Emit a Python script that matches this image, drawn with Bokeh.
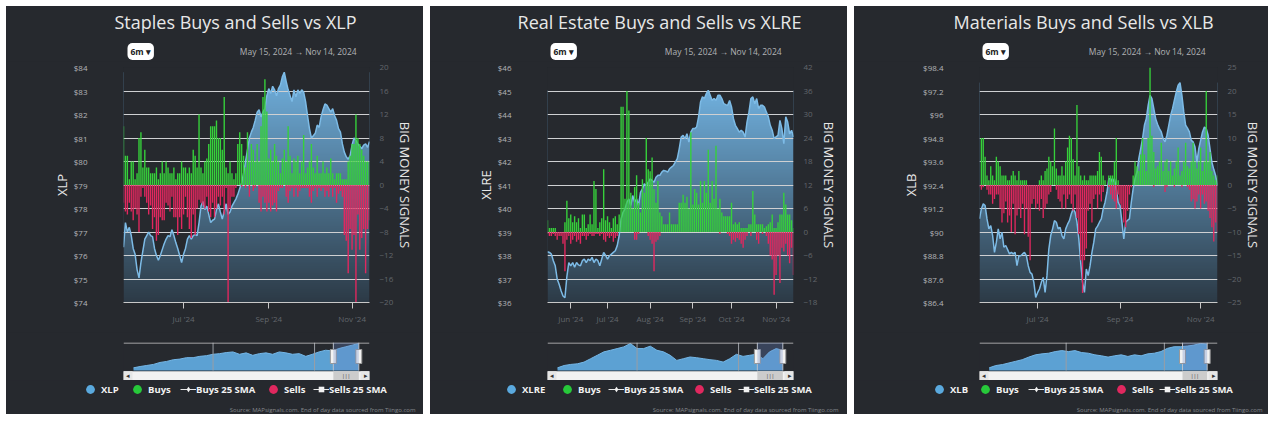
import numpy as np
import pandas as pd
from bokeh.plotting import figure
from bokeh.layouts import row, column
from bokeh.models import (Range1d, LinearAxis, FixedTicker, CustomJSTickFormatter, Label,
                          Legend, LegendItem, BoxAnnotation)
from bokeh.core.properties import value
from bokeh.embed import file_html
from bokeh.resources import INLINE

# ---------------------------------------------------------------- data
staples_xlp = [
    76.35, 77.4, 77.0, 77.2, 76.85, 76.3, 76.05, 75.4, 75.05, 75.7, 76.2, 76.7, 76.85, 77.0, 76.85, 76.8,
    76.3, 76.0, 75.8, 76.0, 76.25, 76.5, 76.7, 76.85, 76.8, 77.1, 76.85, 76.55, 76.3, 76.0, 75.7, 76.05,
    76.3, 76.7, 76.85, 76.7, 76.85, 76.9, 76.85, 77.4, 78.1, 78.3, 77.95, 78.1, 77.75, 77.4, 77.5, 77.55,
    77.95, 78.2, 77.85, 77.55, 77.9, 78.2, 77.75, 77.85, 78.1, 78.25, 78.4, 78.6, 78.85, 79.1, 79.5, 80.0,
    80.5, 81.0, 81.25, 81.45, 81.75, 82.1, 82.2, 81.9, 82.1, 82.25, 82.8, 83.1, 82.9, 83.2, 83.05, 82.8,
    83.1, 83.25, 83.6, 83.8, 83.4, 83.05, 82.8, 82.55, 83.05, 82.75, 83.05, 82.9, 83.05, 82.95, 82.55, 81.95,
    81.4, 81.0, 81.1, 81.2, 81.55, 81.45, 81.9, 82.2, 82.45, 82.4, 82.25, 82.1, 82.25, 81.95, 81.75, 81.4,
    81.25, 80.75, 80.4, 80.2, 80.1, 80.25, 80.7, 81.0, 80.9, 80.75, 80.65, 80.55, 80.7, 80.75, 80.6, 80.85,
]
staples_buys = [
    10, 5, 5, 1, 4, 4, 1, 2, 8, 9, 3, 6, 3, 3, 2, 2,
    2, 3, 1, 2, 4, 2, 4, 3, 2, 2, 3, 1, 2, 2, 4, 3,
    3, 2, 3, 2, 6, 5, 3, 12, 3, 2, 4, 4.5, 7, 10, 10, 10,
    11, 8, 8, 6, 15, 3, 2, 4, 2, 1, 2, 7, 9, 7, 5, 3,
    9, 4, 7, 6, 4, 7, 4, 10, 15, 18, 12.5, 4.5, 6, 4, 7, 5,
    4, 2, 4.5, 6, 4, 10, 5, 2, 4.5, 4, 5, 2, 4, 8.5, 2, 3,
    4, 7, 3, 2, 5, 2, 2, 4, 2, 3, 2, 4.5, 2, 1, 2, 2,
    2, 1, 1, 1, 4, 5, 7, 7, 12, 8, 7, 6, 5, 4, 4, 4,
]
staples_sells = [
    -3, -4.5, -5, -3, -4.5, -6, -4, -5, -8, -2, -0.5, -2, -3, -5, -3.5, -7.5,
    -5.5, -9.5, -8.5, -5.5, -6, -6, -3, -3.5, -4.5, -2, -5.5, -5.5, -8.5, -5.5, -7.5, -5,
    -2, -5.5, -7.5, -9, -5, -8.5, -4, -2.5, -3, -3.5, -4, -2, -4.5, -5.5, -3, -5.5,
    -4, -2, -3.5, -2, -5, -0.5, -20, -4, -2, -2, -0.5, 0, 0, -0.3, 0, -0.5,
    0, -2, 0, -1, -0.5, 0, -3, -4.5, -2, -3, -4.5, -3, -4.5, -3.5, -3, -4.5,
    -1, -0.5, -0.5, 0, -2, -3, -1, -0.5, -2, -0.5, -2, -1, -0.5, -0.5, -0.5, -0.5,
    -2, -3, -1, -0.5, -2, -0.5, -1, -0.5, -2, -1, -2, -0.5, -2, -0.5, -3, -1.5,
    -1, -2, -8.5, -9.5, -15, -7.5, -11, -8.5, -20, -5, -11, -9, -7.5, -15, -7.5, -6,
]

realestate_xlre = [
    38.16, 38.13, 38.06, 37.78, 37.56, 37.0, 36.78, 36.5, 36.28, 36.2, 37.1, 37.7, 37.56, 37.7, 37.5, 37.7,
    37.6, 37.56, 37.78, 37.85, 37.7, 37.85, 37.78, 37.92, 37.7, 37.85, 37.78, 37.56, 37.85, 38.13, 38.0, 37.85,
    37.99, 38.06, 38.13, 38.2, 38.42, 38.84, 39.56, 39.84, 39.98, 40.27, 40.41, 40.13, 40.55, 40.27, 40.41, 40.13,
    40.69, 40.84, 41.05, 40.98, 41.12, 41.26, 41.19, 41.12, 41.33, 41.41, 41.41, 41.55, 41.62, 41.6, 41.55, 41.69,
    41.76, 41.83, 41.97, 42.12, 42.54, 43.04, 43.11, 42.97, 43.18, 42.83, 43.25, 43.4, 43.4, 43.47, 43.9, 44.53,
    44.75, 44.68, 44.89, 45.03, 44.82, 44.6, 44.68, 44.6, 44.82, 44.82, 44.68, 44.46, 44.42, 44.39, 44.6, 44.32,
    43.82, 43.54, 43.4, 43.25, 43.33, 43.25, 43.04, 43.68, 44.1, 44.68, 44.75, 44.46, 44.68, 44.25, 44.39, 44.39,
    44.32, 44.1, 43.9, 43.54, 43.33, 42.97, 43.05, 43.11, 43.75, 43.4, 42.76, 43.9, 43.68, 43.18, 43.33, 43.04,
]
realestate_buys = [
    3, 1, 1, 1, 1, 0, 0, 0, 0, 2.5, 8, 3.5, 4.5, 2.5, 4, 2.5,
    3.5, 1, 4.5, 4.5, 1, 2, 4.5, 2, 13, 11, 1, 2.5, 3.5, 16, 3, 4,
    2.5, 1, 3.5, 4, 2, 4.5, 32, 32, 8.5, 36, 31, 10, 6, 11.5, 14.5, 7.5,
    5, 13.5, 10, 24, 16, 15.5, 19, 11, 7.5, 13, 5, 4, 2, 2, 2, 5,
    2, 2, 2, 2, 7.5, 7.5, 9.5, 7.5, 9, 6, 25.5, 7, 11, 10, 7, 13,
    7.5, 13, 10, 21, 7.5, 13, 8.5, 22, 6, 8.5, 5, 4, 4, 4, 4, 7.5,
    2, 2.5, 2, 2.5, 1, 1, 1, 1, 2, 2, 10.5, 4.5, 2, 2, 2, 2,
    1, 1.5, 2, 2.5, 4.5, 1, 1, 2.5, 4.5, 4.5, 10, 7, 4.5, 4.5, 3, 1,
]
realestate_sells = [
    -0.5, -1, -1, -0.5, -1, -2, -1, -1, -3, -10, -2, -1, -3, -2, -1, -2.5,
    -2, -3, -1, -1, -2, -1, -0.5, -1, -1, -0.5, -0.5, -1, -0.5, -2, -2.5, -1,
    -1.5, -1, -2.5, -1.5, -1, 0, 0, 0, 0, 0, 0, 0, 0, -2, -2, -0.5,
    0, 0, 0, 0, -1, -2, -3, -10, -2.5, -2, -1, 0, 0, 0, 0, 0,
    0, 0, 0, 0, 0, 0, 0, 0, 0, 0, 0, 0, 0, 0, 0, 0,
    0, 0, 0, 0, 0, 0, 0, 0, 0, -0.5, 0, 0, 0, -0.5, -1, -3,
    -2, -2.5, -1.5, -2, -3, -4, -2, -1, 0, -1, 0, 0, -2, -3, 0, -0.5,
    0, -1, -3, -6, -7, -16, -11, -6, -13, -4, -5, -3, -6, -8, -4, -11,
]

materials_xlb = [
    90.67, 91.18, 91.44, 91.35, 90.67, 90.16, 90.33, 89.82, 88.96, 89.48, 90.16, 89.65, 89.99, 89.22, 89.31, 89.1,
    88.88, 88.96, 88.88, 88.96, 88.28, 88.79, 88.79, 88.88, 88.96, 88.79, 88.28, 87.94, 87.85, 87.43, 86.66, 86.9,
    87.09, 87.43, 87.68, 86.92, 87.77, 89.13, 89.82, 90.16, 90.58, 90.5, 90.16, 90.24, 89.82, 89.65, 90.16, 90.4,
    90.58, 90.93, 91.18, 91.01, 90.5, 89.65, 88.45, 87.43, 86.92, 88.11, 87.77, 88.28, 88.96, 89.48, 90.16, 90.3,
    90.5, 90.67, 91.18, 91.52, 92.03, 92.72, 92.72, 92.55, 92.72, 92.21, 91.52, 91.35, 90.5, 89.65, 90.5, 90.6,
    90.67, 91.52, 92.21, 92.72, 93.06, 93.74, 94.25, 94.77, 95.45, 95.79, 96.47, 96.98, 96.81, 96.3, 95.79, 95.5,
    95.28, 95.11, 94.77, 94.6, 94.94, 95.45, 95.96, 96.3, 96.73, 97.15, 97.5, 97.63, 96.98, 96.13, 95.45, 95.3,
    95.11, 94.68, 94.6, 94.34, 93.57, 94.25, 94.68, 95.11, 95.36, 95.28, 94.94, 94.25, 93.57, 93.2, 92.89, 92.38,
]
materials_buys = [
    0, 10, 10, 6, 2, 1, 4, 2, 1, 6, 5, 4, 2, 2, 2, 1,
    1, 2, 3, 2, 1, 3, 1, 1, 1, 1, 0, 0, 0, 0, 0, 0,
    1, 2, 1, 3, 3.5, 6, 5, 4, 12, 3.5, 2, 2, 4, 2, 5, 8,
    10.5, 10, 5.5, 2, 17, 4, 2, 1, 2, 1, 1, 2, 2, 2, 2, 3,
    7, 6, 2, 1, 0, 2, 2, 2, 5, 10, 1, 0, 0, 0, 0, 0,
    0, 0, 2, 5, 4, 3, 6.5, 10, 6.5, 3, 10, 25, 10.5, 7, 3.5, 4,
    5, 9, 3, 5, 5.5, 3, 5, 2, 3.5, 5, 8, 2, 3, 5, 9, 4,
    3.5, 5, 9, 5, 3.5, 5, 8, 3, 5, 20, 5, 7, 3, 2, 1, 2,
]
materials_sells = [
    -0.5, -1, -0.5, 0, -1, -2, -2, -4, -3, -2, -2, -5, -8, -6, -3.5, -8,
    -6.5, -10, -4, -10.5, -6.5, -5, -7, -4, -10.5, -5, -11, -16, -4, -3, -5, -4,
    -5.5, -3, -7, -5, -4, -2, -1.5, 0, 0, -1, -3, -3.5, -5, -2, -5, -3,
    -2, -4, -5.5, -2, -7, -10.5, -16, -23, -16, -13.5, -5.5, -4, -8, -3, -2, -5,
    -2, -3.5, -1.5, 0, 0, -0.5, -2, -3, -3.5, -5, -2, -4, -5, -8, -9, -5.5,
    -2, -0.5, 0, 0, 0, 0, 0, 0, 0, 0, 0, 0, 0, -0.5, 0, 0,
    0, 0, 0, -1.5, -0.5, 0, 0, 0, -0.5, 0, 0, 0, -0.5, 0, 0, -0.5,
    -1, -3.5, -3, -5, -3.5, -2, -5, -2, -4, -3.5, -5.5, -7, -9, -12, -8, -10,
]

# navigator (long history, sampled evenly from mid-2020 to Nov 2024)
nav_xlp = [58.1, 59.5, 60.6, 61.7, 63.8, 64.9, 66.7, 67.4, 68.9, 68.9, 70.3, 71.0, 72.5, 73.2, 74.3, 75.0,
           72.5, 74.0, 71.4, 73.2, 74.0, 72.5, 75.0, 74.0, 72.5, 73.2, 70.3, 72.5, 75.0, 76.8, 76.1, 78.6,
           80.4, 82.2, 84.0]
nav_xlre = [30.0, 31.9, 32.8, 33.3, 34.7, 37.5, 40.3, 43.1, 44.4, 45.8, 47.2, 50.0, 45.8, 45.8, 47.8, 44.4,
            43.1, 40.3, 36.1, 37.5, 38.9, 38.3, 37.5, 36.7, 36.1, 34.7, 37.5, 41.1, 39.4, 40.3, 41.1, 37.5,
            43.1, 45.8, 44.4]
nav_xlb = [52.0, 56.2, 58.0, 61.0, 64.0, 67.0, 71.8, 76.0, 77.8, 79.0, 82.0, 83.8, 82.0, 83.8, 80.2, 79.0,
           76.0, 74.2, 71.8, 74.2, 76.0, 73.0, 76.0, 74.2, 77.8, 79.0, 82.0, 88.0, 91.0, 91.0, 92.2, 94.0,
           97.0, 95.8]

staples_price_ticks = [74, 75, 76, 77, 78, 79, 80, 81, 82, 83, 84]
staples_signal_ticks = [-20, -16, -12, -8, -4, 0, 4, 8, 12, 16, 20]
realestate_price_ticks = [36, 37, 38, 39, 40, 41, 42, 43, 44, 45, 46]
realestate_signal_ticks = [-18, -12, -6, 0, 6, 12, 18, 24, 30, 36, 42]
materials_price_ticks = [86.4, 87.6, 88.8, 90.0, 91.2, 92.4, 93.6, 94.8, 96.0, 97.2, 98.4]
materials_signal_ticks = [-25, -20, -15, -10, -5, 0, 5, 10, 15, 20, 25]

# ---------------------------------------------------------------- style
BG = "#26292e"
FONT = "Open Sans"
GRID = "#cfd0d2"
LINE_BLUE = "#7dbbe6"
GREEN = "#36d03b"
RED = "#e0285f"
NAV_BLUE = "#5fa8dc"
TOP_RGB = (112, 176, 222)
BOT_RGB = (44, 58, 70)

holidays = pd.to_datetime(["2024-05-27", "2024-06-19", "2024-07-04", "2024-09-02"])
days = pd.bdate_range("2024-05-15", "2024-11-14")
days = days[~days.isin(holidays)]


def month_ticks(months):
    ticks, labels, seen = [], {}, set()
    for i, d in enumerate(days):
        if d.month in months and d.month not in seen:
            seen.add(d.month)
            ticks.append(i)
            labels[i] = d.strftime("%b '%y")
    return ticks, labels


def grad_img(rows=256):
    t = np.linspace(0, 1, rows)[:, None]
    img = np.empty((rows, 2), dtype=np.uint32)
    view = img.view(dtype=np.uint8).reshape((rows, 2, 4))
    for c in range(3):
        view[:, :, c] = np.round(BOT_RGB[c] + (TOP_RGB[c] - BOT_RGB[c]) * t).astype(np.uint8)
    view[:, :, 3] = 255
    return img


def ms(s):
    return pd.Timestamp(s).timestamp() * 1000.0


def blank(W, H):
    f = figure(width=W, height=H, x_range=Range1d(0, 1), y_range=Range1d(0, 1),
               output_backend="svg", toolbar_location=None, tools="", min_border=0,
               background_fill_color=BG, border_fill_color=BG, outline_line_color=None)
    f.axis.visible = False
    f.grid.visible = False
    try:
        f.frame_align = False
    except Exception:
        pass
    return f


def one_legend(label, renderers, x, y, gw, gh):
    return Legend(items=[LegendItem(label=label, renderers=renderers)],
                  orientation="horizontal", location=(x, y),
                  glyph_width=gw, glyph_height=gh, label_height=gh, label_standoff=0,
                  padding=0, margin=0, spacing=0, background_fill_alpha=0, border_line_alpha=0,
                  label_text_color="#f2f2f2", label_text_font=FONT, label_text_font_style="bold",
                  label_text_font_size="9.5px")


def panel(title, sym, price, buys, sells, pticks, sticks, months, nav_vals,
          W, L, R, btn_x, date_x, src_x, leg_xs):
    # ---------------- header: title, range button, date range
    hd = blank(W, 55)
    hd.add_layout(Label(x=229, y=40, x_units="screen", y_units="screen", text=title,
                        text_align="center", text_baseline="middle", text_font=FONT,
                        text_font_size="18px", text_color="#e8e8e8"))
    hd.add_layout(Label(x=btn_x, y=10, x_units="screen", y_units="screen", text="6m \u25be",
                        text_align="left", text_baseline="middle", text_font=FONT,
                        text_font_size="8.5px", text_font_style="bold", text_color="#222222",
                        background_fill_color="#ffffff", padding=3, border_radius=5))
    hd.add_layout(Label(x=date_x, y=10, x_units="screen", y_units="screen",
                        text="May 15, 2024   \u2192   Nov 14, 2024",
                        text_align="right", text_baseline="middle", text_font=FONT,
                        text_font_size="8.5px", text_color="#b0b2b5"))

    # ---------------- main chart
    n = len(price)
    x = list(range(n))
    plo, phi = pticks[0], pticks[-1]
    p = figure(width=W, height=271, x_range=Range1d(0, n - 1), y_range=Range1d(plo, phi),
               output_backend="svg", toolbar_location=None, tools="",
               min_border_left=L, min_border_right=R, min_border_top=6, min_border_bottom=30,
               background_fill_color=BG, border_fill_color=BG, outline_line_color=None)
    p.extra_y_ranges = {"sig": Range1d(sticks[0], sticks[-1])}

    pr = np.array(price, dtype=float)
    p.image_rgba(image=[grad_img()], x=0, y=plo, dw=n - 1, dh=float(pr.max()) - plo, level="image")
    p.varea(x=x, y1=price, y2=[phi] * n, fill_color=BG, level="image")
    p.line(x, price, line_color=LINE_BLUE, line_width=1.5)
    p.vbar(x=x, top=buys, bottom=0, width=0.72, y_range_name="sig", fill_color=GREEN, line_color=None)
    p.vbar(x=x, top=sells, bottom=0, width=0.72, y_range_name="sig", fill_color=RED, line_color=None)

    p.xgrid.visible = False
    p.ygrid.grid_line_color = GRID
    p.ygrid.grid_line_width = 1
    ya = p.yaxis[0]
    ya.ticker = FixedTicker(ticks=pticks)
    ya.formatter = CustomJSTickFormatter(code="return '$' + (Math.round(tick*10)/10).toString();")
    ya.axis_line_color = None
    ya.major_tick_line_color = None
    ya.minor_tick_line_color = None
    ya.major_label_standoff = 30
    ya.major_label_text_color = "#b4b6b9"
    ya.major_label_text_font = FONT
    ya.major_label_text_font_size = "8px"
    ya.axis_label = sym
    ya.axis_label_text_font = FONT
    ya.axis_label_text_font_style = "normal"
    ya.axis_label_text_font_size = "13px"
    ya.axis_label_text_color = "#e6e6e6"
    ya.axis_label_standoff = 0

    ra = LinearAxis(y_range_name="sig", ticker=FixedTicker(ticks=sticks))
    ra.axis_line_color = None
    ra.major_tick_line_color = None
    ra.minor_tick_line_color = None
    ra.major_label_standoff = 4
    ra.major_label_text_color = "#62666c"
    ra.major_label_text_font = FONT
    ra.major_label_text_font_size = "8px"
    ra.axis_label = "BIG MONEY SIGNALS"
    ra.axis_label_text_font = FONT
    ra.axis_label_text_font_style = "normal"
    ra.axis_label_text_font_size = "13px"
    ra.axis_label_text_color = "#e6e6e6"
    ra.axis_label_standoff = 0
    p.add_layout(ra, "right")

    xt, xl = month_ticks(months)
    xa = p.xaxis[0]
    xa.ticker = FixedTicker(ticks=xt)
    xa.major_label_overrides = xl
    xa.axis_line_color = "#c8c8c8"
    xa.major_tick_line_color = "#c8c8c8"
    xa.major_tick_out = 6
    xa.major_tick_in = 0
    xa.minor_tick_line_color = None
    xa.major_label_standoff = 4
    xa.major_label_text_color = "#62666c"
    xa.major_label_text_font = FONT
    xa.major_label_text_font_size = "8px"

    # ---------------- navigator with scrollbar
    m = len(nav_vals)
    nx = list(np.linspace(ms("2020-06-08"), ms("2024-11-14"), m))
    vmin, vmax = min(nav_vals), max(nav_vals)
    span = vmax - vmin
    base = vmin - 0.11 * span
    top = vmax + 0.04 * span
    px = (top - base) / 28.0
    ystart = top - px * 38.0
    x0, x1 = ms("2020-03-28"), ms("2025-01-30")
    nv = figure(width=W, height=48, x_range=Range1d(x0, x1), y_range=Range1d(ystart, top),
                output_backend="svg", toolbar_location=None, tools="",
                min_border_left=L, min_border_right=R, min_border_top=10, min_border_bottom=0,
                background_fill_color=BG, border_fill_color=BG, outline_line_color=None)
    nv.axis.visible = False
    nv.grid.visible = False
    nv.varea(x=nx, y1=[base] * m, y2=nav_vals, fill_color=NAV_BLUE, fill_alpha=0.95)
    nv.line(nx, nav_vals, line_color="#74b6e6", line_width=1)
    yl = [ms("2022-01-01"), ms("2024-01-01")]
    nv.segment(x0=yl, y0=[base] * 2, x1=yl, y1=[top] * 2, line_color="#9a9ea4", line_width=1)
    s0, s1 = ms("2024-05-15"), ms("2024-11-14")
    nv.add_layout(BoxAnnotation(left=s0, right=s1, bottom=base, top=top, fill_color="#6685c2",
                                fill_alpha=0.3, line_color=None))
    nv.segment(x0=[x0, s0, s1], y0=[top - px * 0.5, base, base], x1=[x1, s0, s1],
               y1=[top - px * 0.5, top, top], line_color="#cccccc", line_width=1)
    mid = (base + top) / 2
    nv.rect(x=[s0, s1], y=[mid, mid], width=6, height=14, width_units="screen", height_units="screen",
            fill_color="#f2f2f2", line_color="#999999")
    sb_top, sb_bot = base - px * 0.8, ystart + px * 0.6
    nv.quad(left=x0, right=x1, bottom=sb_bot, top=sb_top, fill_color="#f2f2f2", line_color=None)
    nv.quad(left=s0, right=s1, bottom=sb_bot, top=sb_top, fill_color="#cccccc", line_color=None)
    sbm = (sb_top + sb_bot) / 2
    nv.rect(x=[x0, x1], y=[sbm, sbm], width=18, height=sb_top - sb_bot, width_units="screen",
            fill_color="#e6e6e6", line_color=None)
    nv.text(x=[x0, x1], y=[sbm, sbm], text=["\u25c2", "\u25b8"], x_offset=[4, -4],
            text_align="center", text_baseline="middle", text_font_size="7px", text_color="#333333",
            text_font=value(FONT))
    nv.text(x=[(s0 + s1) / 2], y=[sbm], text=["|||"], text_align="center", text_baseline="middle",
            text_font_size="5px", text_color="#333333", text_font=value(FONT))

    # ---------------- footer: legend and source
    ft = blank(W, 34)
    nan = [np.nan]
    r1 = ft.scatter(x=nan, y=nan, marker="circle", size=9, fill_color="#5aa9de", line_color=None)
    r2 = ft.scatter(x=nan, y=nan, marker="circle", size=9, fill_color="#27c93a", line_color=None)
    r3l = ft.line(x=nan, y=nan, line_color="#e8e8e8", line_width=1)
    r3m = ft.scatter(x=nan, y=nan, marker="diamond", size=6, fill_color="#f2f2f2", line_color=None)
    r4 = ft.scatter(x=nan, y=nan, marker="circle", size=9, fill_color="#e0285f", line_color=None)
    r5l = ft.line(x=nan, y=nan, line_color="#e8e8e8", line_width=1)
    r5m = ft.scatter(x=nan, y=nan, marker="square", size=6, fill_color="#f2f2f2", line_color=None)
    lx = leg_xs
    ft.add_layout(one_legend(sym, [r1], lx[0], 14, 22, 22))
    ft.add_layout(one_legend("Buys", [r2], lx[1], 14, 22, 22))
    ft.add_layout(one_legend("Buys 25 SMA", [r3l, r3m], lx[2], 18, 16, 14))
    ft.add_layout(one_legend("Sells", [r4], lx[3], 14, 22, 22))
    ft.add_layout(one_legend("Sells 25 SMA", [r5l, r5m], lx[4], 18, 16, 14))
    ft.add_layout(Label(x=src_x, y=5, x_units="screen", y_units="screen",
                        text="Source: MAPsignals.com. End of day data sourced from Tiingo.com",
                        text_align="right", text_baseline="middle", text_font=FONT,
                        text_font_size="6px", text_color="#85888c"))
    return column(hd, p, nv, ft, spacing=0, styles={"background-color": BG})


c1 = panel("Staples Buys and Sells vs XLP", "XLP", staples_xlp, staples_buys, staples_sells,
           staples_price_ticks, staples_signal_ticks, [7, 9, 11], nav_xlp,
           W=417, L=117, R=54, btn_x=121, date_x=359, src_x=409, leg_xs=[73, 120, 174, 256, 307])
c2 = panel("Real Estate Buys and Sells vs XLRE", "XLRE", realestate_xlre, realestate_buys, realestate_sells,
           realestate_price_ticks, realestate_signal_ticks, [6, 7, 8, 9, 10, 11], nav_xlre,
           W=417, L=117, R=54, btn_x=120, date_x=360, src_x=408, leg_xs=[70, 126, 178, 258, 308])
c3 = panel("Materials Buys and Sells vs XLB", "XLB", materials_xlb, materials_buys, materials_sells,
           materials_price_ticks, materials_signal_ticks, [7, 9, 11], nav_xlb,
           W=414, L=125, R=51, btn_x=128, date_x=360, src_x=408, leg_xs=[74, 120, 174, 256, 305])

layout = row(c1, c2, c3, spacing=7, margin=(6, 0, 0, 6))
open("out.html", "w").write(file_html(layout, INLINE))
